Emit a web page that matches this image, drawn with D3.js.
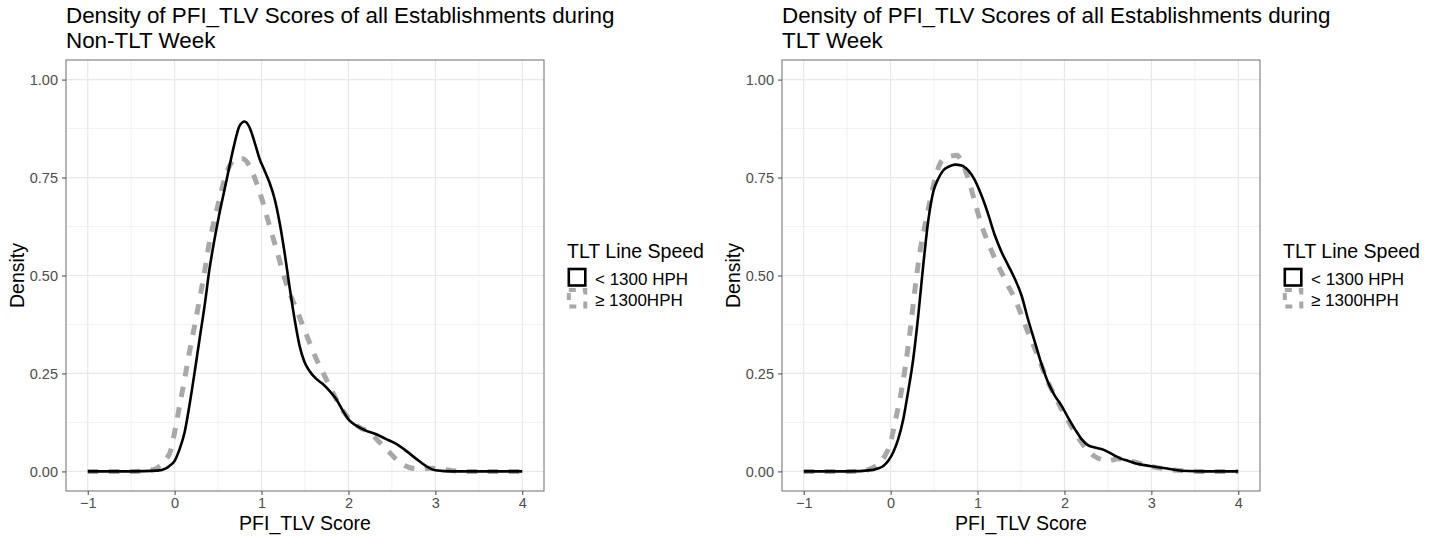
<!DOCTYPE html>
<html>
<head>
<meta charset="utf-8">
<script src="https://cdn.jsdelivr.net/npm/d3@7"></script>
<style>
  body { margin: 0; background: #fff; }
  svg text { font-family: "Liberation Sans", Arial, sans-serif; }
</style>
</head>
<body>
<svg id="canvas"></svg>
<script>
var panelTitles = [
  ['Density of PFI_TLV Scores of all Establishments during', 'Non-TLT Week'],
  ['Density of PFI_TLV Scores of all Establishments during', 'TLT Week']
];
var xLabel = 'PFI_TLV Score';
var yLabel = 'Density';
var legendTitle = 'TLT Line Speed';
var seriesNames = ['< 1300 HPH', '\u2265 1300HPH'];
var xTicks = [-1, 0, 1, 2, 3, 4];
var yTicks = [0, 0.25, 0.5, 0.75, 1];

// [score, density]
var nonTltSlow = [[-1,0],[-0.5,0],[-0.2,0.002],[-0.1,0.008],[-0.06,0.014],[0,0.027],[0.057,0.057],[0.115,0.10],[0.17,0.168],[0.23,0.253],[0.287,0.338],[0.345,0.423],[0.40,0.515],[0.46,0.594],[0.517,0.66],[0.575,0.72],[0.632,0.78],[0.69,0.838],[0.747,0.882],[0.805,0.893],[0.86,0.879],[0.92,0.84],[0.977,0.798],[1.034,0.768],[1.09,0.738],[1.15,0.696],[1.207,0.636],[1.264,0.56],[1.32,0.474],[1.38,0.389],[1.437,0.321],[1.494,0.279],[1.55,0.257],[1.63,0.236],[1.705,0.223],[1.78,0.206],[1.858,0.185],[1.935,0.155],[2.01,0.13],[2.09,0.117],[2.2,0.104],[2.32,0.095],[2.43,0.083],[2.55,0.07],[2.66,0.053],[2.78,0.032],[2.89,0.014],[3.0,0.003],[3.2,0],[4,0]];
var nonTltFast = [[-1,0],[-0.5,0],[-0.25,0.004],[-0.17,0.014],[-0.1,0.03],[-0.04,0.057],[0,0.10],[0.057,0.168],[0.115,0.236],[0.17,0.304],[0.23,0.372],[0.287,0.44],[0.345,0.51],[0.4,0.585],[0.46,0.645],[0.517,0.696],[0.575,0.747],[0.632,0.78],[0.71,0.798],[0.785,0.798],[0.86,0.78],[0.94,0.738],[1.015,0.687],[1.09,0.628],[1.17,0.568],[1.245,0.508],[1.32,0.457],[1.4,0.415],[1.475,0.372],[1.55,0.33],[1.63,0.287],[1.705,0.253],[1.78,0.219],[1.858,0.185],[1.935,0.155],[2.01,0.134],[2.13,0.112],[2.24,0.1],[2.36,0.074],[2.47,0.049],[2.59,0.023],[2.7,0.01],[2.82,0.006],[2.93,0.008],[3.05,0.006],[3.2,0.002],[3.4,0],[4,0]];
var tltSlow = [[-1,0],[-0.5,0],[-0.2,0.004],[-0.14,0.008],[-0.084,0.014],[-0.027,0.027],[0.03,0.049],[0.088,0.083],[0.146,0.134],[0.2,0.202],[0.26,0.287],[0.318,0.398],[0.375,0.526],[0.433,0.64],[0.49,0.713],[0.548,0.747],[0.605,0.768],[0.663,0.777],[0.74,0.783],[0.816,0.781],[0.893,0.768],[0.97,0.743],[1.046,0.704],[1.12,0.658],[1.2,0.602],[1.276,0.56],[1.352,0.526],[1.43,0.491],[1.506,0.449],[1.58,0.389],[1.66,0.33],[1.736,0.274],[1.812,0.227],[1.89,0.193],[1.966,0.168],[2.04,0.138],[2.12,0.108],[2.195,0.083],[2.27,0.067],[2.35,0.061],[2.425,0.057],[2.5,0.05],[2.58,0.04],[2.655,0.032],[2.73,0.027],[2.81,0.021],[2.92,0.016],[3.04,0.012],[3.16,0.008],[3.3,0.003],[3.42,0.001],[3.6,0],[4,0]];
var tltFast = [[-1,0],[-0.5,0],[-0.3,0.002],[-0.22,0.008],[-0.14,0.019],[-0.065,0.04],[0,0.074],[0.05,0.125],[0.107,0.185],[0.165,0.261],[0.222,0.355],[0.28,0.465],[0.337,0.56],[0.395,0.628],[0.45,0.687],[0.51,0.745],[0.567,0.785],[0.625,0.8],[0.7,0.805],[0.76,0.807],[0.82,0.79],[0.893,0.747],[0.97,0.687],[1.046,0.628],[1.12,0.585],[1.2,0.543],[1.276,0.508],[1.352,0.474],[1.43,0.44],[1.506,0.398],[1.58,0.355],[1.66,0.313],[1.736,0.27],[1.812,0.227],[1.89,0.193],[1.966,0.159],[2.04,0.13],[2.12,0.1],[2.195,0.074],[2.27,0.053],[2.35,0.038],[2.425,0.03],[2.5,0.027],[2.617,0.032],[2.73,0.029],[2.85,0.021],[2.96,0.014],[3.08,0.009],[3.2,0.005],[3.35,0.002],[3.6,0],[4,0]];

var panels = [
  { left: 66, titles: panelTitles[0], series: [nonTltSlow, nonTltFast] },
  { left: 782, titles: panelTitles[1], series: [tltSlow, tltFast] }
];

var W = 1440, H = 537;
var PW = 478, TOP = 60, BOTTOM = 491;
var styles = [
  { stroke: '#000', width: 2.6, dash: null },
  { stroke: '#a8a8a8', width: 5, dash: '10.5,10.5' }
];

var svg = d3.select('#canvas').attr('width', W).attr('height', H);

panels.forEach(function (p) {
  var x = d3.scaleLinear().domain([-1.25, 4.25]).range([p.left, p.left + PW]);
  var y = d3.scaleLinear().domain([-0.05, 1.05]).range([BOTTOM, TOP]);
  var g = svg.append('g');

  // minor grid
  var minorX = d3.range(-0.5, 4, 1);
  var minorY = d3.range(0.125, 1.05, 0.25);
  g.selectAll('.mx').data(minorX).enter().append('line')
    .attr('x1', function (d) { return x(d); }).attr('x2', function (d) { return x(d); })
    .attr('y1', TOP).attr('y2', BOTTOM)
    .attr('stroke', '#f2f2f2').attr('stroke-width', 1);
  g.selectAll('.my').data(minorY).enter().append('line')
    .attr('y1', function (d) { return y(d); }).attr('y2', function (d) { return y(d); })
    .attr('x1', p.left).attr('x2', p.left + PW)
    .attr('stroke', '#f2f2f2').attr('stroke-width', 1);
  // major grid
  g.selectAll('.gx').data(xTicks).enter().append('line')
    .attr('x1', function (d) { return x(d); }).attr('x2', function (d) { return x(d); })
    .attr('y1', TOP).attr('y2', BOTTOM)
    .attr('stroke', '#e8e8e8').attr('stroke-width', 1.2);
  g.selectAll('.gy').data(yTicks).enter().append('line')
    .attr('y1', function (d) { return y(d); }).attr('y2', function (d) { return y(d); })
    .attr('x1', p.left).attr('x2', p.left + PW)
    .attr('stroke', '#e8e8e8').attr('stroke-width', 1.2);

  var line = d3.line()
    .x(function (d) { return x(d[0]); })
    .y(function (d) { return y(d[1]); })
    .curve(d3.curveMonotoneX);

  // dashed series drawn first so the black line sits on top where they overlap
  [1, 0].forEach(function (i) {
    g.append('path')
      .datum(p.series[i])
      .attr('d', line)
      .attr('fill', 'none')
      .attr('stroke', styles[i].stroke)
      .attr('stroke-width', styles[i].width)
      .attr('stroke-dasharray', styles[i].dash)
      .attr('stroke-linejoin', 'round');
  });

  // panel border
  g.append('rect')
    .attr('x', p.left).attr('y', TOP)
    .attr('width', PW).attr('height', BOTTOM - TOP)
    .attr('fill', 'none').attr('stroke', '#7a7a7a').attr('stroke-width', 1.1);

  // axes
  var xAxis = d3.axisBottom(x).tickValues(xTicks).tickSize(4).tickPadding(3)
    .tickFormat(d3.format('d'));
  var yAxis = d3.axisLeft(y).tickValues(yTicks).tickSize(4).tickPadding(4)
    .tickFormat(d3.format('.2f'));
  var xa = g.append('g').attr('transform', 'translate(0,' + BOTTOM + ')').call(xAxis);
  var ya = g.append('g').attr('transform', 'translate(' + p.left + ',0)').call(yAxis);
  [xa, ya].forEach(function (a) {
    a.select('.domain').remove();
    a.selectAll('.tick line').attr('stroke', '#444');
    a.selectAll('.tick text').attr('fill', '#4d4d4d')
      .style('font-size', '14.5px')
      .style('font-family', '"Liberation Sans", Arial, sans-serif');
  });

  // titles, two lines
  p.titles.forEach(function (s, i) {
    g.append('text')
      .attr('x', p.left).attr('y', 23 + i * 25.2)
      .attr('fill', '#000').style('font-size', '22.4px')
      .text(s);
  });
  g.append('text')
    .attr('x', p.left + PW / 2).attr('y', 530)
    .attr('text-anchor', 'middle').style('font-size', '19.5px')
    .text(xLabel);
  g.append('text')
    .attr('transform', 'translate(' + (p.left - 42) + ',' + ((TOP + BOTTOM) / 2) + ') rotate(-90)')
    .attr('text-anchor', 'middle').style('font-size', '19.5px')
    .text(yLabel);

  // legend
  var lx = p.left + PW + 23;
  var lg = g.append('g').attr('transform', 'translate(' + lx + ',0)');
  lg.append('text').attr('x', 0).attr('y', 258).style('font-size', '19.5px').text(legendTitle);
  seriesNames.forEach(function (name, i) {
    var ky = 269 + i * 21;
    lg.append('rect')
      .attr('x', 1.8).attr('y', ky).attr('width', 16.5).attr('height', 16.5)
      .attr('fill', 'none')
      .attr('stroke', styles[i].stroke)
      .attr('stroke-width', i ? 4 : 2.6)
      .attr('stroke-dasharray', i ? '7,7' : null);
    lg.append('text').attr('x', 28).attr('y', ky + 16)
      .style('font-size', '17px').text(name);
  });
});
</script>
</body>
</html>
